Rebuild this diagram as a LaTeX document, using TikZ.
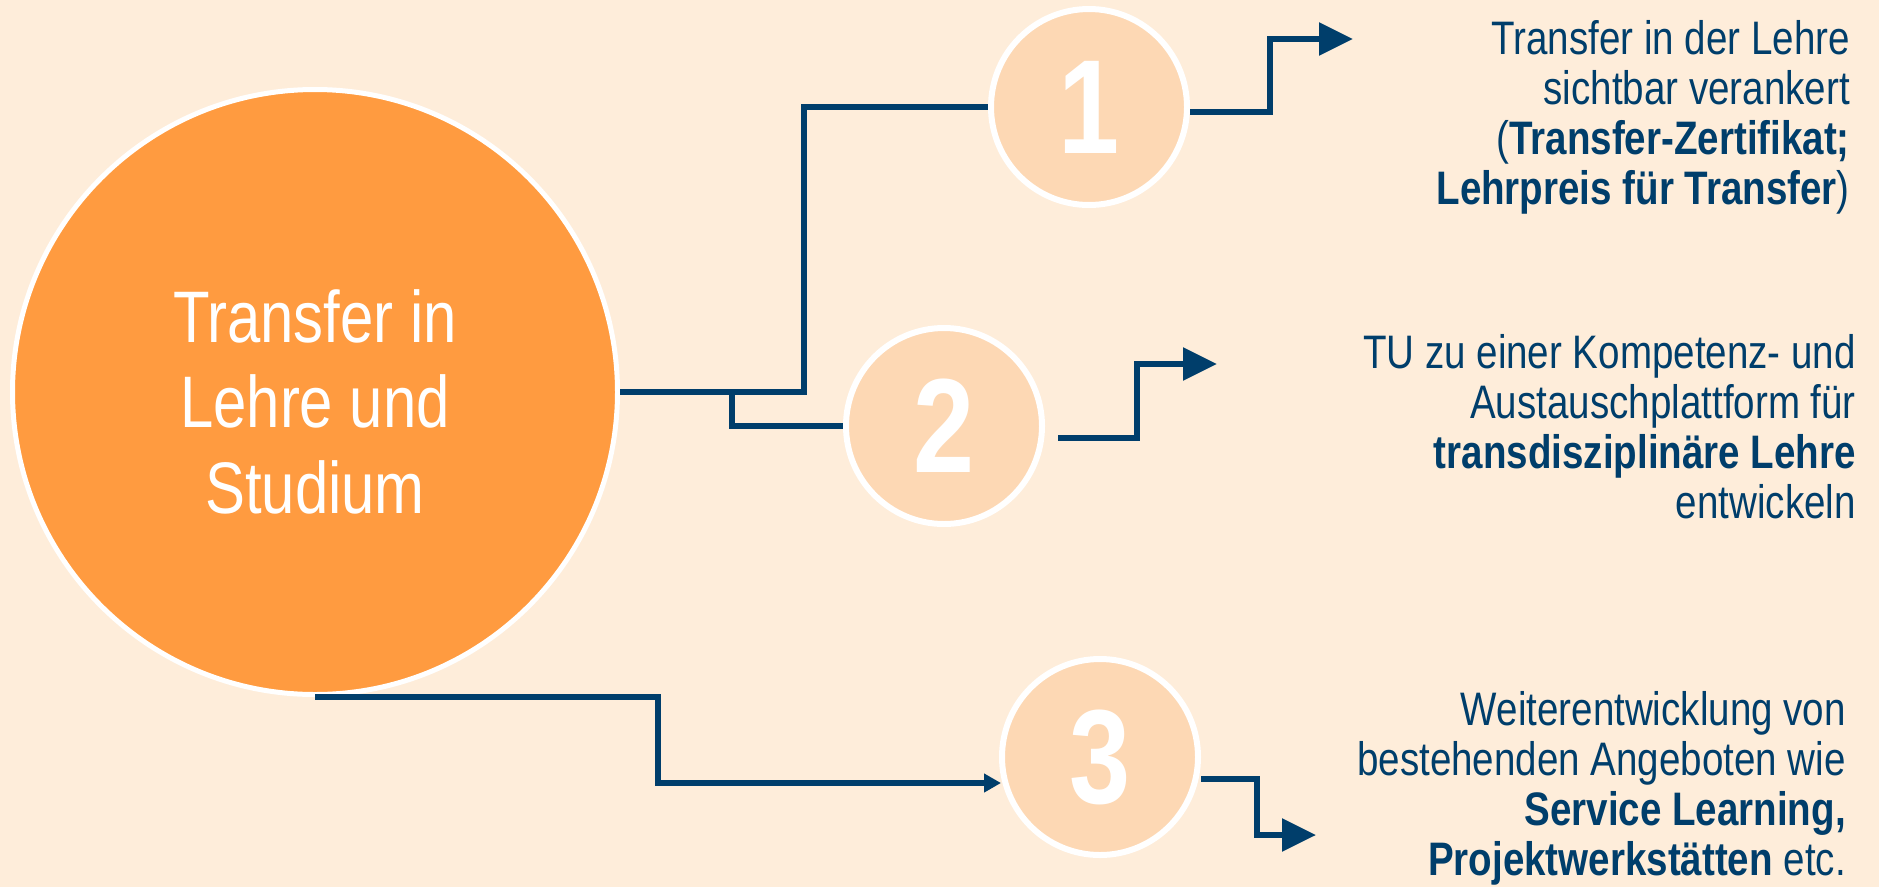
\documentclass[tikz,border=0pt]{standalone}
\usepackage{fontspec}
\setmainfont{Liberation Sans}[FakeStretch=0.82]
\usetikzlibrary{arrows.meta}
\definecolor{bg}{RGB}{254,237,218}
\definecolor{mainorange}{RGB}{255,155,64}
\definecolor{peach}{RGB}{253,216,180}
\definecolor{navy}{RGB}{0,62,107}
\begin{document}
\begin{tikzpicture}[x=1pt,y=-1pt,
  conn/.style={draw=navy,line width=5.5pt},
  bigtip/.style={-{Triangle[length=34pt,width=32pt]}},
  smalltip/.style={-{Triangle[length=17pt,width=18pt]}},
  num/.style={circle,draw=white,line width=6pt,fill=peach,minimum size=196pt,inner sep=0pt,text=white,font=\fontsize{134}{134}\selectfont\bfseries},
  rtext/.style={anchor=base east,align=right,text=navy,font=\fontsize{47}{50}\selectfont,inner sep=0pt}]
\fill[bg] (0,0) rectangle (1879,887);
\useasboundingbox (0,0) rectangle (1879,887);
% main circle
\node[circle,draw=white,line width=5pt,fill=mainorange,minimum size=605pt,inner sep=0pt] (m) at (315,392) {};
\node[anchor=base,align=center,text=white,font=\fontsize{73}{85.5}\selectfont,inner sep=0pt] (mt) at (315,513) {Transfer in\\Lehre und\\Studium};
% numbered circles
\node[num] (c1) at (1089,107) {1};
\node[num] (c2) at (944,426) {2};
\node[num] (c3) at (1100,757) {3};
% texts
\node[rtext] (t1txt) at (1850,204) {Transfer in der Lehre\\sichtbar verankert\\(\textbf{Transfer-Zertifikat;}\\\textbf{Lehrpreis für Transfer})};
\node[rtext] (t2txt) at (1856,518) {TU zu einer Kompetenz- und\\Austauschplattform für\\\textbf{transdisziplinäre Lehre}\\entwickeln};
\node[rtext] (t3txt) at (1846,875) {Weiterentwicklung von\\bestehenden Angeboten wie\\\textbf{Service Learning,}\\\textbf{Projektwerkstätten} etc.};
% connectors
\coordinate (k1) at (804,107);
\coordinate (k2) at (732,392);
\draw[conn] (m.east) -| (k1) -- (c1.west);
\draw[conn] (k2) |- (c2.west);
\coordinate (e1) at (1270,39);
\coordinate (a1) at (1353,39);
\draw[conn,bigtip] ([yshift=-5pt]c1.east) -| (e1) -- (a1);
\coordinate (e2) at (1137,364);
\coordinate (a2) at (1217,364);
\draw[conn,bigtip] ([xshift=13pt,yshift=-12pt]c2.east) -| (e2) -- (a2);
\coordinate (e3) at (658,783);
\coordinate (a3) at (1001,783);
\draw[conn,smalltip] (m.south) -| (e3) -- (a3);
\coordinate (e4) at (1257,835);
\coordinate (a4) at (1316,835);
\draw[conn,bigtip] ([yshift=-22pt]c3.east) -| (e4) -- (a4);
\end{tikzpicture}
\end{document}
